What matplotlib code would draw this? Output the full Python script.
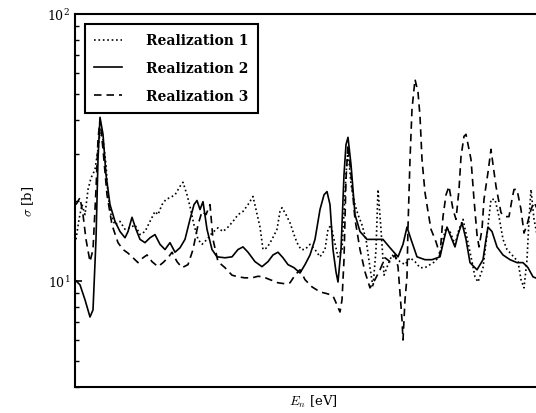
import matplotlib
matplotlib.use("Agg")
import matplotlib.pyplot as plt
from matplotlib.ticker import LogLocator, NullFormatter, NullLocator

plt.rcParams['font.family'] = ['DejaVu Serif']
plt.rcParams['mathtext.fontset'] = 'cm'

# Energy [eV] and cross sections [b]
e1 = [1, 4, 7, 10, 13, 16, 20, 23, 25, 28, 31, 33, 36, 40, 45, 50, 55, 60, 65, 70, 75, 80, 83, 87, 91, 95,
      100, 105, 108, 112, 115, 119, 123, 127, 132, 137, 143, 148, 153, 158, 163, 168, 173, 178, 181, 185,
      188, 192, 197, 202, 205, 207, 211, 215, 219, 222, 226, 230, 235, 240, 245, 250, 253, 256, 259, 263,
      267, 271, 273, 276, 280, 283, 287, 291, 295, 298, 301, 303, 306, 309, 313, 317, 321, 325, 330, 335,
      340, 345, 350, 355, 360, 365, 368, 371, 375, 380, 384, 388, 392, 397, 400, 403, 408, 412, 416, 420,
      424, 428, 432, 437, 443, 446, 449, 452, 454, 456, 459, 465, 475]
s1 = [14.3, 17.0, 19.3, 17.7, 22.0, 24.3, 26.1, 31.1, 36.0, 33.9, 27.3, 21.0, 17.7, 16.2, 16.7, 15.6, 15.8,
      16.2, 14.9, 15.3, 16.7, 18.2, 17.7, 19.3, 20.2, 20.5, 21.0, 22.6, 23.4, 21.0, 19.0, 16.2, 14.3, 13.7,
      14.3, 15.1, 15.8, 15.3, 15.9, 16.7, 17.7, 18.2, 19.3, 20.7, 18.5, 15.9, 13.1, 13.3, 14.3, 15.6, 18.2,
      18.8, 17.7, 16.5, 14.9, 13.9, 13.1, 13.1, 13.7, 13.1, 12.3, 13.1, 15.6, 16.2, 14.3, 12.3, 13.1, 25.0,
      31.1, 23.0, 19.3, 17.7, 16.2, 14.3, 11.2, 9.49, 13.1, 22.0, 15.6, 10.5, 11.5, 12.5, 12.2, 11.8, 11.5,
      12.2, 11.8, 11.2, 11.2, 11.5, 11.8, 12.5, 14.3, 15.8, 15.3, 13.7, 15.6, 17.0, 14.5, 11.8, 10.35, 9.9,
      11.2, 14.9, 20.2, 20.2, 17.4, 14.3, 13.1, 12.5, 11.8, 10.1, 9.41, 12.0, 17.0, 22.0, 17.0, 13.1, 12.0]

e2 = [1, 5, 10, 15, 18, 21, 23, 25, 28, 31, 35, 40, 45, 50, 53, 57, 61, 65, 70, 75, 80, 85, 90, 95, 100,
      105, 110, 115, 119, 122, 125, 128, 132, 137, 142, 150, 157, 163, 168, 173, 180, 187, 193, 198, 203,
      208, 213, 219, 225, 230, 235, 240, 245, 249, 252, 255, 258, 261, 263, 266, 269, 271, 273, 276, 280,
      285, 292, 300, 308, 315, 323, 328, 332, 336, 342, 350, 357, 365, 369, 372, 375, 380, 383, 387, 391,
      395, 402, 408, 411, 413, 417, 422, 428, 435, 442, 448, 453, 458, 465, 475]
s2 = [10.0, 9.66, 8.49, 7.32, 7.78, 14.3, 28.5, 41.0, 35.4, 25.0, 19.3, 16.7, 15.3, 14.5, 15.3, 17.3, 15.6,
      14.3, 13.9, 14.5, 14.9, 13.7, 13.1, 13.9, 12.8, 13.3, 14.3, 17.0, 19.3, 20.0, 18.5, 19.8, 15.6, 13.1,
      12.3, 12.2, 12.3, 13.1, 13.4, 12.8, 11.8, 11.3, 11.8, 12.5, 12.8, 12.2, 11.5, 11.2, 10.7, 11.5, 12.5,
      14.3, 18.5, 21.0, 21.6, 19.3, 13.1, 10.8, 9.9, 13.1, 25.0, 32.4, 34.5, 27.3, 17.7, 15.3, 14.3, 14.3,
      14.3, 13.3, 12.3, 13.7, 15.9, 14.3, 12.3, 12.0, 12.0, 12.3, 14.3, 15.9, 14.9, 13.4, 14.9, 16.5, 14.3,
      11.7, 11.0, 12.0, 14.3, 15.9, 15.3, 13.4, 12.5, 12.0, 11.7, 11.7, 11.2, 10.35, 10.1, 9.9]

e3 = [1, 5, 8, 11, 15, 18, 21, 23, 25, 28, 32, 37, 43, 48, 53, 58, 63, 68, 72, 77, 83, 88, 93, 97, 102,
      107, 113, 118, 123, 127, 131, 135, 138, 143, 150, 157, 163, 170, 177, 183, 188, 195, 203, 210, 215,
      220, 225, 230, 237, 245, 253, 258, 262, 265, 267, 269, 271, 273, 276, 280, 285, 290, 295, 300, 305,
      310, 315, 320, 323, 325, 327, 328, 330, 332, 333, 335, 337, 340, 343, 345, 347, 350, 353, 356, 361,
      365, 368, 371, 374, 378, 381, 384, 386, 389, 391, 394, 396, 399, 402, 404, 407, 409, 413, 416, 418,
      421, 426, 430, 434, 437, 439, 442, 446, 449, 452, 456, 459, 465, 475]
s3 = [19.3, 20.5, 17.7, 14.3, 11.8, 13.1, 22.0, 33.9, 40.3, 31.1, 21.0, 16.2, 13.9, 13.1, 12.7, 12.2, 11.7,
      12.2, 12.5, 11.8, 11.3, 11.7, 12.2, 12.8, 11.8, 11.2, 11.5, 13.1, 16.2, 18.2, 17.7, 19.3, 14.3, 11.8,
      11.2, 10.5, 10.35, 10.26, 10.26, 10.4, 10.35, 10.1, 9.83, 9.75, 9.83, 10.5, 11.0, 10.1, 9.49, 9.09,
      8.93, 8.78, 8.12, 7.64, 8.49, 12.0, 24.0, 32.4, 25.0, 17.0, 13.1, 10.8, 9.41, 10.1, 11.0, 12.2, 11.8,
      12.5, 11.3, 9.01, 7.13, 6.00, 8.49, 10.35, 15.9, 28.5, 44.0, 56.9, 50.9, 41.4, 28.5, 21.4, 18.2, 15.6,
      14.0, 12.5, 17.4, 21.0, 22.6, 18.5, 17.0, 22.0, 29.2, 34.8, 35.4, 31.1, 28.5, 20.2, 14.9, 13.4, 15.6,
      20.2, 25.5, 31.1, 27.3, 22.6, 18.0, 17.4, 17.4, 20.2, 22.0, 22.0, 18.5, 15.1, 16.2, 18.5, 19.7, 17.7,
      15.6]

labels = ['Realization 1', 'Realization 2', 'Realization 3']

fig = plt.figure(figsize=(5.36, 4.14), dpi=100)
ax = fig.add_axes([75/536, 26/414, 476/536, 373/414])

ax.plot(e1, s1, color='black', lw=1.2, ls=':', label=labels[0])
ax.plot(e2, s2, color='black', lw=1.2, ls='-', label=labels[1])
ax.plot(e3, s3, color='black', lw=1.2, ls=(0, (4.5, 3)), label=labels[2])

ax.set_yscale('log')
ax.set_ylim(4, 100)
ax.set_xlim(0, 476)
ax.xaxis.set_major_locator(NullLocator())
ax.xaxis.set_minor_locator(NullLocator())
ax.yaxis.set_major_locator(LogLocator(base=10, numticks=5))
ax.yaxis.set_minor_locator(LogLocator(base=10, subs=range(2, 10), numticks=10))
ax.yaxis.set_minor_formatter(NullFormatter())
ax.tick_params(axis='y', which='major', direction='in', length=5, width=1.2, labelsize=9)
ax.tick_params(axis='y', which='minor', direction='in', length=3, width=1.0)
for sp in ax.spines.values():
    sp.set_linewidth(1.5)

ax.set_ylabel(r'$\sigma$ [b]', fontsize=9.5, labelpad=8)
ax.set_xlabel(r'$E_n$ [eV]', fontsize=9.5, labelpad=4)

leg = ax.legend(loc='upper left', fancybox=False, framealpha=1, edgecolor='black',
                prop={'weight': 'bold', 'size': 10}, handlelength=2.0, handletextpad=1.7,
                labelspacing=1.0, borderpad=0.7, borderaxespad=0.7)
leg.get_frame().set_linewidth(1.5)

fig.savefig('out.png', dpi=100)
